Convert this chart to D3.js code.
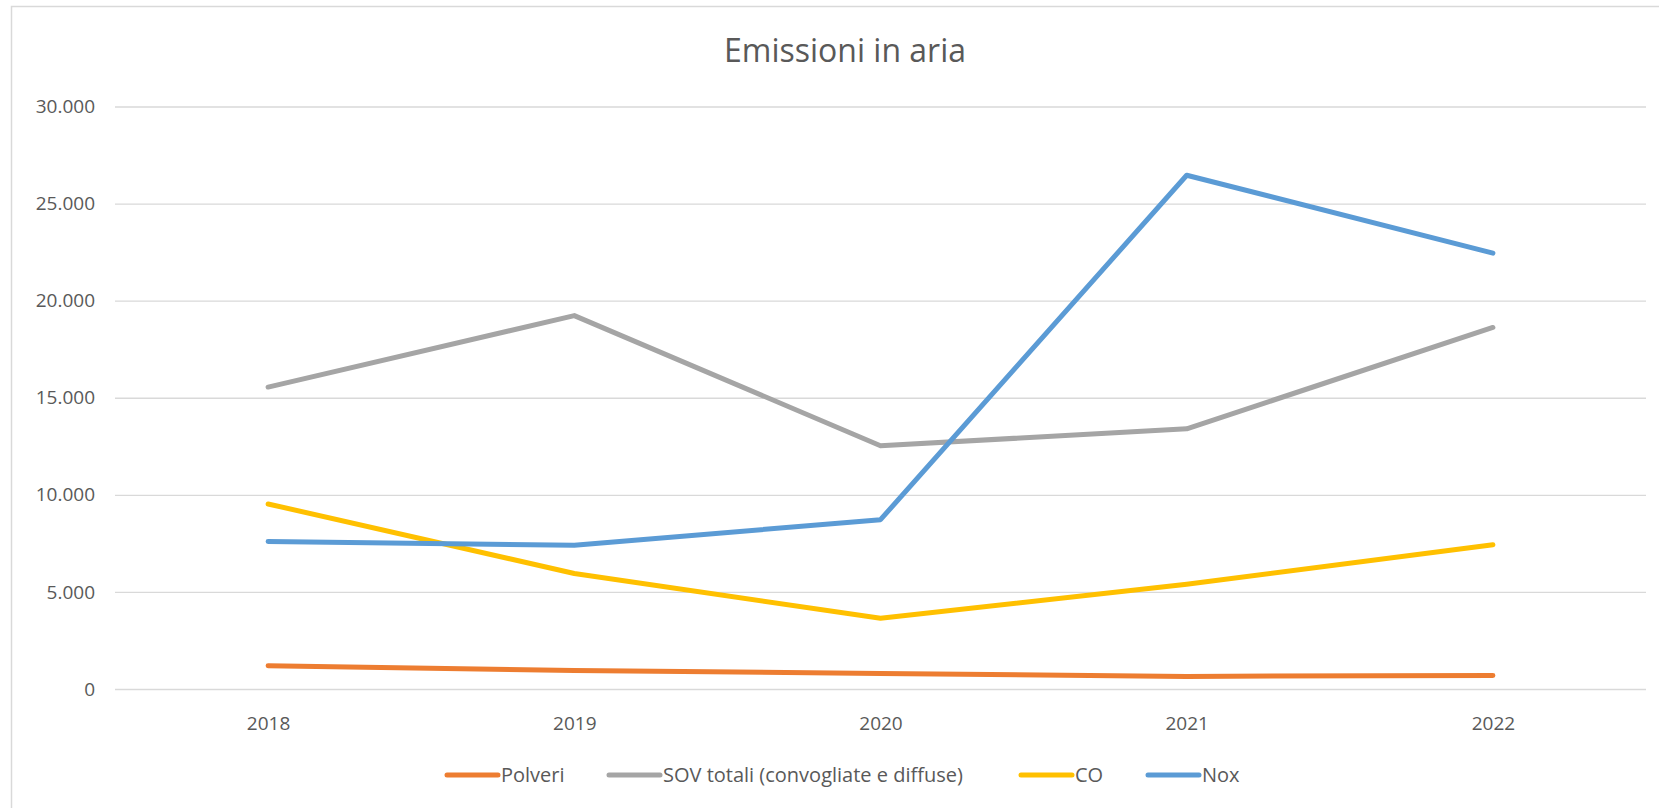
<!DOCTYPE html>
<html>
<head>
<meta charset="utf-8">
<script src="https://cdn.jsdelivr.net/npm/d3@7"></script>
<style>
  html, body { margin: 0; padding: 0; background: #fff; }
  svg { display: block; }
  text { font-family: "Open Sans", "Noto Sans", sans-serif; }
</style>
</head>
<body>
<svg id="chart" width="1659" height="808"></svg>
<script>
const years = ["2018", "2019", "2020", "2021", "2022"];
const polveri = [1200, 950, 800, 650, 700];
const sov = [15550, 19230, 12530, 13400, 18620];
const co = [9530, 5950, 3640, 5400, 7430];
const nox = [7600, 7400, 8720, 26460, 22450];
const seriesNames = ["Polveri", "SOV totali (convogliate e diffuse)", "CO", "Nox"];
const seriesColors = ["#ED7D31", "#A5A5A5", "#FFC000", "#5B9BD5"];
const yTicks = [0, 5000, 10000, 15000, 20000, 25000, 30000];
const chartTitle = "Emissioni in aria";

const seriesValues = [polveri, sov, co, nox];

const svg = d3.select("#chart");
const W = 1659, H = 808;
const plot = { left: 115, right: 1646, top: 106.5, bottom: 689 };

// outer frame (left and top edges visible)
svg.append("rect").attr("x", 11.5).attr("y", 6.5).attr("width", W).attr("height", H)
  .attr("fill", "#fff").attr("stroke", "#d9d9d9").attr("stroke-width", 1.5);

const x = d3.scalePoint().domain(years).range([plot.left, plot.right]).padding(0.5);
const y = d3.scaleLinear().domain([0, 30000]).range([plot.bottom, plot.top]);

const it = d3.formatLocale({ decimal: ",", thousands: ".", grouping: [3], currency: ["€", ""] });
const fmt = it.format(",d");

// gridlines + y labels
const yAxis = d3.axisLeft(y).tickValues(yTicks).tickFormat(fmt)
  .tickSize(-(plot.right - plot.left)).tickPadding(20);
const gy = svg.append("g").attr("transform", `translate(${plot.left},0)`).call(yAxis);
gy.select(".domain").remove();
gy.selectAll(".tick line").attr("stroke", "#d9d9d9").attr("stroke-width", 1.3);
gy.selectAll(".tick text").attr("fill", "#595959").attr("font-size", 19)
  .style("font-family", '"Open Sans", sans-serif');

// x axis labels
const xAxis = d3.axisBottom(x).tickSize(0).tickPadding(28);
const gx = svg.append("g").attr("transform", `translate(0,${plot.bottom})`).call(xAxis);
gx.select(".domain").remove();
gx.selectAll(".tick text").attr("fill", "#595959").attr("font-size", 19)
  .style("font-family", '"Open Sans", sans-serif');

// lines
const line = d3.line().x((d, i) => x(years[i])).y(d => y(d));
seriesValues.forEach((vals, k) => {
  svg.append("path").datum(vals).attr("d", line)
    .attr("fill", "none").attr("stroke", seriesColors[k]).attr("stroke-width", 5)
    .attr("stroke-linecap", "round").attr("stroke-linejoin", "round");
});

// title
svg.append("text").attr("x", 845).attr("y", 62).attr("text-anchor", "middle")
  .attr("font-size", 32).attr("fill", "#595959").text(chartTitle);

// legend
const legendX = [447, 609, 1021, 1148];
const ly = 775, lineLen = 51, textGap = 3;
seriesNames.forEach((name, k) => {
  const g = svg.append("g").attr("transform", `translate(${legendX[k]},${ly})`);
  g.append("line").attr("x1", 0).attr("x2", lineLen).attr("y1", 0).attr("y2", 0)
    .attr("stroke", seriesColors[k]).attr("stroke-width", 5).attr("stroke-linecap", "round");
  g.append("text").attr("x", lineLen + textGap).attr("y", 7).attr("font-size", 20)
    .attr("fill", "#595959").text(name);
});
</script>
</body>
</html>
